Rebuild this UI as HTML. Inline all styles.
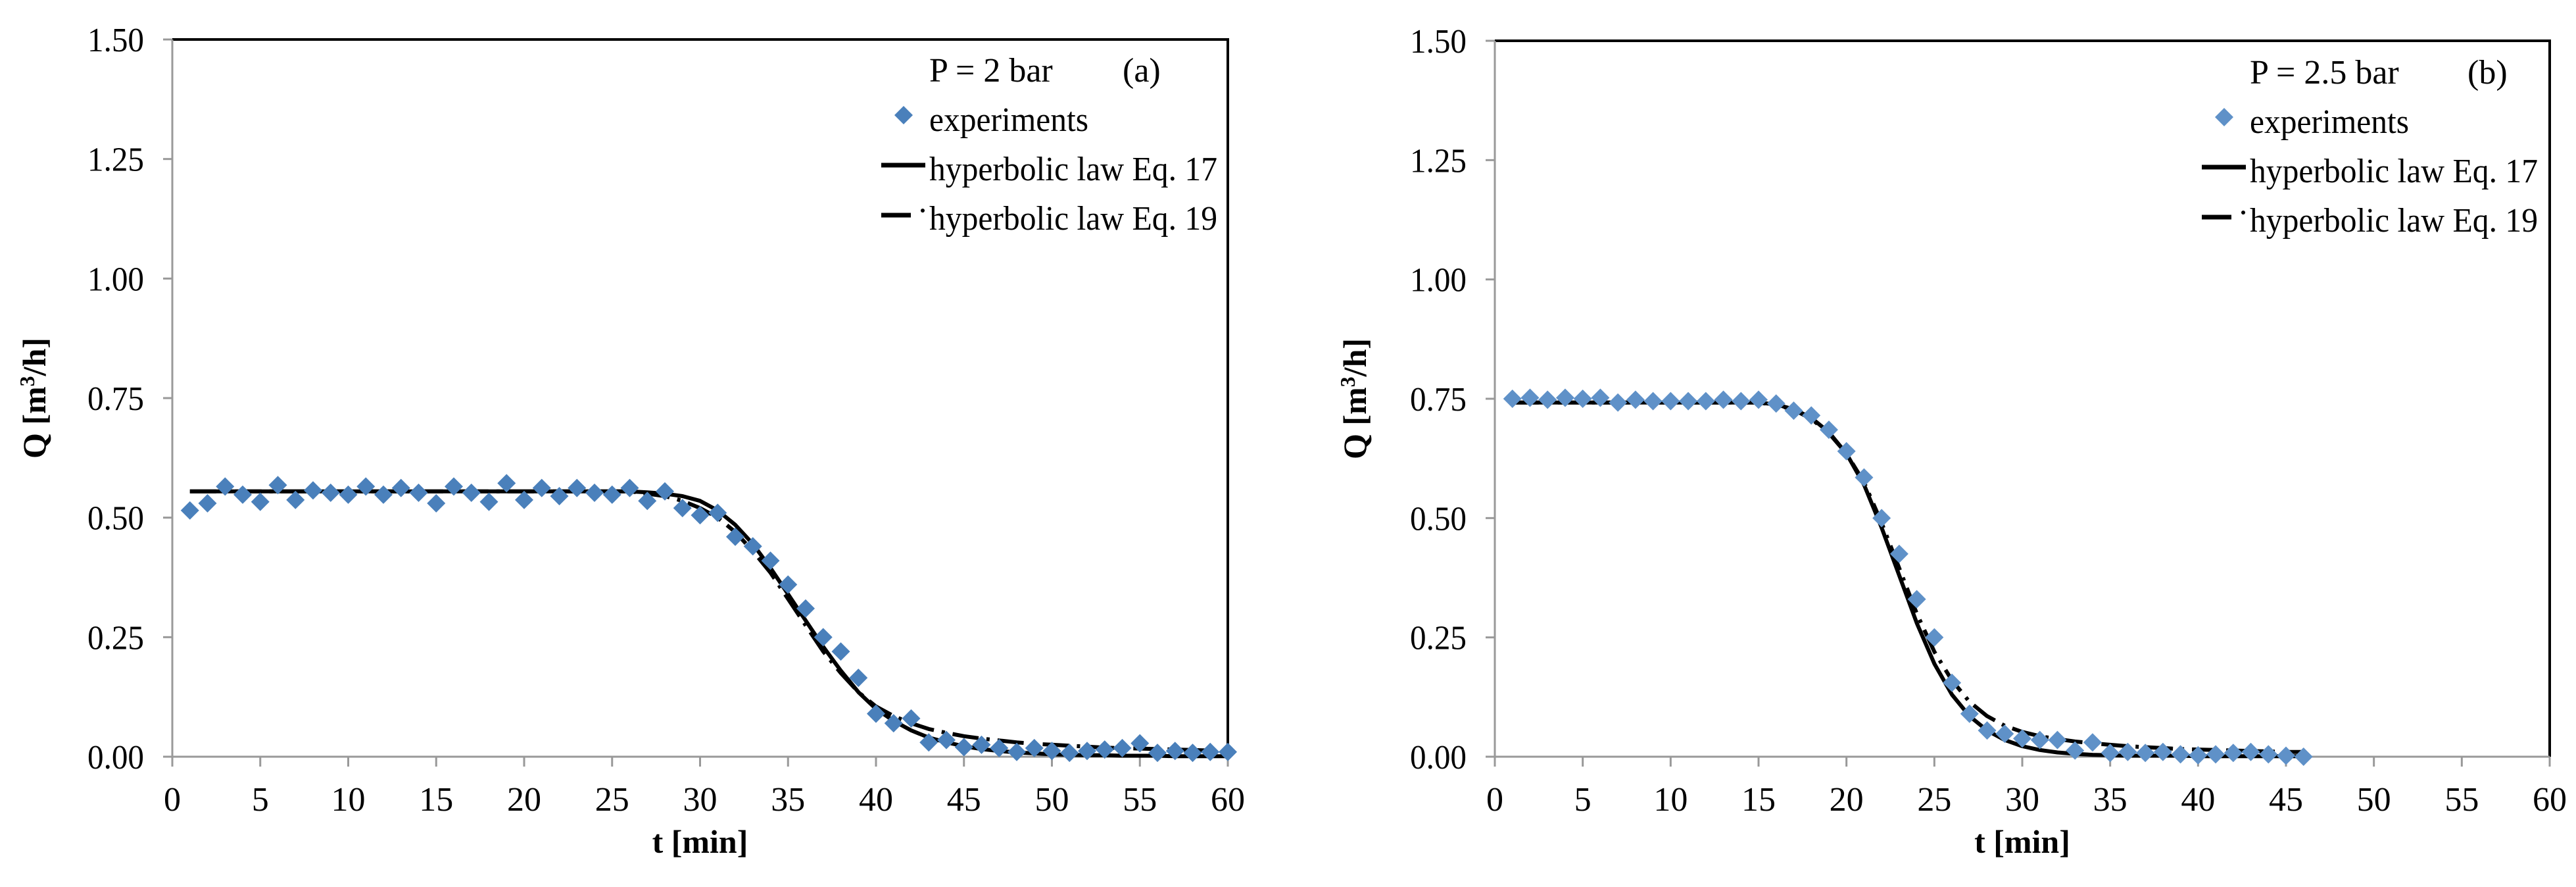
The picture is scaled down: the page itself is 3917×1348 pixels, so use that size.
<!DOCTYPE html>
<html><head><meta charset="utf-8"><style>
html,body{margin:0;padding:0;background:#fff}
svg{display:block}
text{font-family:"Liberation Serif",serif;fill:#000}
</style></head><body>
<svg id="chart" width="3917" height="1348" viewBox="0 0 3917 1348" xmlns="http://www.w3.org/2000/svg"></svg>
<script>
const tA = [1,2,3,4,5,6,7,8,9,10,11,12,13,14,15,16,17,18,19,20,21,22,23,24,25,26,27,28,29,30,31,32,33,34,35,36,37,38,39,40,41,42,43,44,45,46,47,48,49,50,51,52,53,54,55,56,57,58,59,60];
const expA = [0.515,0.53,0.565,0.548,0.533,0.568,0.537,0.557,0.552,0.548,0.565,0.548,0.562,0.552,0.53,0.565,0.552,0.533,0.572,0.537,0.562,0.545,0.562,0.552,0.548,0.562,0.535,0.555,0.52,0.505,0.51,0.46,0.44,0.41,0.36,0.31,0.25,0.22,0.165,0.09,0.07,0.08,0.03,0.035,0.02,0.025,0.018,0.01,0.018,0.012,0.008,0.012,0.015,0.018,0.028,0.008,0.012,0.008,0.01,0.01];
const eq17A = [0.555,0.555,0.555,0.555,0.555,0.555,0.555,0.555,0.555,0.555,0.555,0.555,0.555,0.555,0.555,0.555,0.555,0.555,0.555,0.555,0.555,0.555,0.555,0.555,0.555,0.555,0.553,0.55,0.545,0.535,0.515,0.485,0.445,0.395,0.34,0.285,0.23,0.18,0.135,0.1,0.075,0.055,0.04,0.03,0.022,0.016,0.012,0.009,0.007,0.005,0.004,0.003,0.003,0.002,0.002,0.002,0.001,0.001,0.001,0.001];
const eq19A = [0.555,0.555,0.555,0.555,0.555,0.555,0.555,0.555,0.555,0.555,0.555,0.555,0.555,0.555,0.555,0.555,0.555,0.555,0.555,0.555,0.555,0.555,0.555,0.555,0.555,0.555,0.55,0.545,0.535,0.52,0.5,0.47,0.43,0.385,0.33,0.275,0.22,0.175,0.135,0.105,0.085,0.07,0.058,0.05,0.043,0.038,0.034,0.03,0.027,0.025,0.023,0.021,0.019,0.018,0.017,0.016,0.015,0.014,0.013,0.012];
const tB = [1,2,3,4,5,6,7,8,9,10,11,12,13,14,15,16,17,18,19,20,21,22,23,24,25,26,27,28,29,30,31,32,33,34,35,36,37,38,39,40,41,42,43,44,45,46];
const expB = [0.75,0.752,0.748,0.752,0.75,0.752,0.742,0.748,0.745,0.745,0.745,0.745,0.748,0.745,0.748,0.74,0.725,0.715,0.685,0.64,0.585,0.5,0.425,0.33,0.25,0.155,0.09,0.055,0.048,0.038,0.035,0.035,0.013,0.03,0.008,0.01,0.008,0.01,0.005,0.003,0.005,0.008,0.01,0.005,0.002,0.0];
const eq17B = [0.742,0.742,0.742,0.742,0.742,0.742,0.742,0.742,0.742,0.742,0.742,0.742,0.742,0.742,0.742,0.738,0.728,0.71,0.68,0.635,0.57,0.48,0.38,0.28,0.195,0.13,0.085,0.055,0.035,0.022,0.014,0.009,0.006,0.004,0.003,0.002,0.002,0.002,0.002,0.001,0.001,0.001,0.001,0.001,0.001,0.001];
const eq19B = [0.742,0.742,0.742,0.742,0.742,0.742,0.742,0.742,0.742,0.742,0.742,0.742,0.742,0.742,0.742,0.737,0.727,0.708,0.678,0.635,0.575,0.49,0.395,0.3,0.22,0.16,0.115,0.085,0.065,0.052,0.043,0.037,0.032,0.028,0.025,0.022,0.02,0.018,0.016,0.015,0.014,0.013,0.012,0.011,0.01,0.01];
const xTicks = [0,5,10,15,20,25,30,35,40,45,50,55,60];
const yTicks = [0,0.25,0.5,0.75,1.0,1.25,1.5];
const yTickLabels = ["0.00","0.25","0.50","0.75","1.00","1.25","1.50"];

const NS="http://www.w3.org/2000/svg";
const svg=document.getElementById('chart');
function mk(tag,attrs,parent){const e=document.createElementNS(NS,tag);for(const k in attrs)e.setAttribute(k,attrs[k]);(parent||svg).appendChild(e);return e;}

function panel(cfg){
  const g=mk('g',{});
  
  
  const X=v=>cfg.x0+(v-0)/60*(cfg.x1-cfg.x0);
  const Y=v=>cfg.yb-(v/1.5)*(cfg.yb-cfg.yt);
  const fr=mk('path',{d:`M${cfg.x0} ${cfg.yt} H${cfg.x1} V${cfg.yb}`,fill:'none',stroke:'#000','stroke-width':4},g);
  
  
  const ya=mk('line',{x1:cfg.x0,y1:cfg.yt,x2:cfg.x0,y2:cfg.yb,stroke:'#999','stroke-width':3},g);
  
  
  const xa=mk('line',{x1:cfg.x0-14,y1:cfg.yb,x2:cfg.x1,y2:cfg.yb,stroke:'#999','stroke-width':3},g);
  
  
  yTicks.forEach((v,i)=>{
    const tk=mk('line',{x1:cfg.x0-14,y1:Y(v),x2:cfg.x0,y2:Y(v),stroke:'#999','stroke-width':3},g);
    
    
    const tl=mk('text',{x:cfg.x0-43,y:Y(v)+18,'text-anchor':'end','font-size':52,textLength:86,lengthAdjust:'spacingAndGlyphs'},g);
    
    
    tl.textContent=yTickLabels[i];
  });
  xTicks.forEach(v=>{
    const tk=mk('line',{x1:X(v),y1:cfg.yb,x2:X(v),y2:cfg.yb+15,stroke:'#999','stroke-width':3},g);
    
    
    const tl=mk('text',{x:X(v),y:cfg.yb+82,'text-anchor':'middle','font-size':52},g);
    
    
    tl.textContent=String(v);
  });
  const yt=mk('text',{x:0,y:0,'text-anchor':'middle','font-size':50,'font-weight':'bold',transform:`translate(${cfg.ytx},${(cfg.yt+cfg.yb)/2}) rotate(-90)`},g);
  
  
  yt.innerHTML='Q [m<tspan dy="-17" font-size="32">3</tspan><tspan dy="17">/h]</tspan>';
  const xt=mk('text',{x:(cfg.x0+cfg.x1)/2,y:1296,'text-anchor':'middle','font-size':50,'font-weight':'bold'},g);
  
  
  xt.textContent='t [min]';
  const pth=(ts,vs)=>ts.map((t,i)=>(i?'L':'M')+X(t).toFixed(1)+' '+Y(vs[i]).toFixed(1)).join(' ');
  const c19=mk('path',{d:pth(cfg.t,cfg.e19),fill:'none',stroke:'#000','stroke-width':6,'stroke-dasharray':'40 12 5 12','stroke-linejoin':'round'},g);
  
  
  const c17=mk('path',{d:pth(cfg.t,cfg.e17),fill:'none',stroke:'#000','stroke-width':6,'stroke-linejoin':'round'},g);
  
  
  cfg.t.forEach((t,i)=>{
    const cx=X(t),cy=Y(cfg.exp[i]),r=14;
    const d=mk('path',{d:`M${cx} ${cy-r} L${cx+r} ${cy} L${cx} ${cy+r} L${cx-r} ${cy} Z`,fill:cfg.col},g);
    
    
  });
  const lg=mk('g',{},g);
  
  
  const lx=cfg.lx;
  const t1=mk('text',{x:lx,y:cfg.ly,'font-size':52},lg);
  
  
  t1.textContent=cfg.ptext;
  const t2=mk('text',{x:cfg.px,y:cfg.ly,'font-size':52},lg);
  
  
  t2.textContent=cfg.plabel;
  const dx=lx-39,dy=cfg.ly+51;
  const ld=mk('path',{d:`M${dx} ${dy-14} L${dx+14} ${dy} L${dx} ${dy+14} L${dx-14} ${dy} Z`,fill:cfg.col},lg);
  
  
  const e1=mk('text',{x:lx,y:cfg.ly+75,'font-size':52,textLength:242,lengthAdjust:'spacingAndGlyphs'},lg);
  
  
  e1.textContent='experiments';
  const l17=mk('line',{x1:lx-73,y1:cfg.ly+127,x2:lx-6,y2:cfg.ly+127,stroke:'#000','stroke-width':7},lg);
  
  
  const e2=mk('text',{x:lx,y:cfg.ly+150,'font-size':52,textLength:438,lengthAdjust:'spacingAndGlyphs'},lg);
  
  
  e2.textContent='hyperbolic law Eq. 17';
  const l19=mk('line',{x1:lx-73,y1:cfg.ly+203,x2:lx-28,y2:cfg.ly+203,stroke:'#000','stroke-width':7},lg);
  
  
  const dot=mk('circle',{cx:lx-10,cy:cfg.ly+196,r:3,fill:'#000'},lg);
  
  
  const e3=mk('text',{x:lx,y:cfg.ly+225,'font-size':52,textLength:438,lengthAdjust:'spacingAndGlyphs'},lg);
  
  
  e3.textContent='hyperbolic law Eq. 19';
}
panel({name:'panel-a',x0:262,x1:1867,yt:60,yb:1150,ytx:69,t:tA,exp:expA,e17:eq17A,e19:eq19A,col:'#4a80bb',lx:1413,ly:124,px:1707,ptext:'P = 2 bar',plabel:'(a)'});
panel({name:'panel-b',x0:2273,x1:3877,yt:62,yb:1150,ytx:2077,t:tB,exp:expB,e17:eq17B,e19:eq19B,col:'#5f91c8',lx:3421,ly:127,px:3752,ptext:'P = 2.5 bar',plabel:'(b)'});
</script>
</body></html>
